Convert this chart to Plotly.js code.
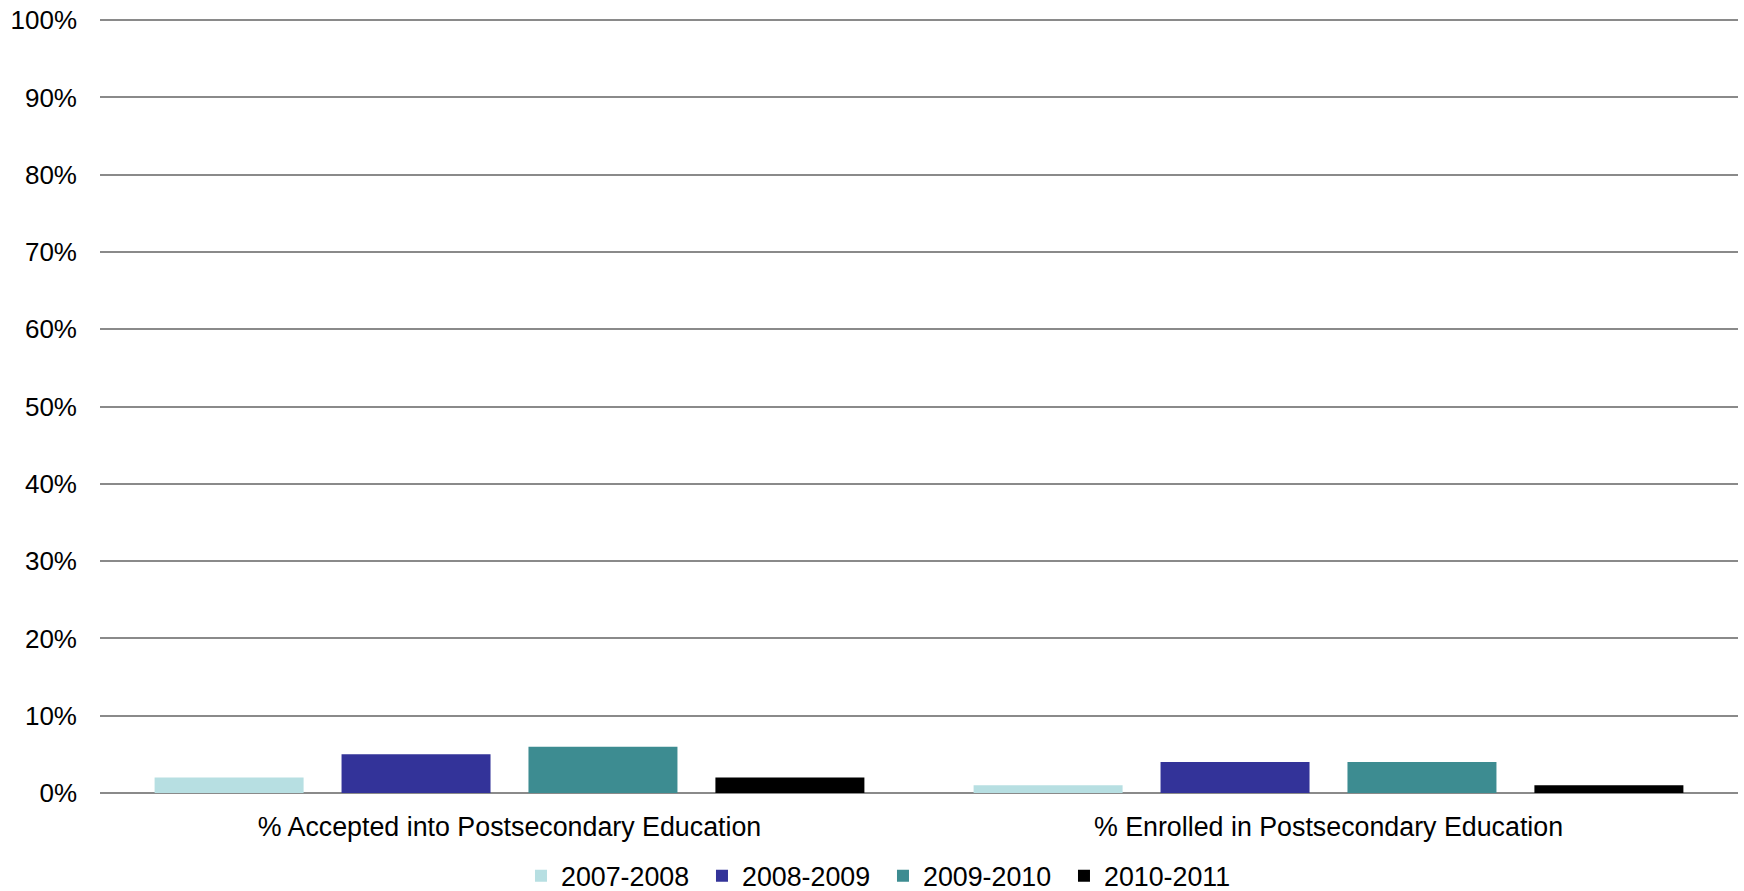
<!DOCTYPE html>
<html>
<head>
<meta charset="utf-8">
<script src="https://cdn.plot.ly/plotly-3.0.1.min.js"></script>
<style>
  html, body { margin: 0; padding: 0; background: #ffffff; }
  #chart { width: 1744px; height: 891px; }
</style>
</head>
<body>
<div id="chart"></div>
<script>
const categories = ["% Accepted into Postsecondary Education", "% Enrolled in Postsecondary Education"];
const seriesNames = ["2007-2008", "2008-2009", "2009-2010", "2010-2011"];
const v2007_2008 = [2, 1];
const v2008_2009 = [5, 4];
const v2009_2010 = [6, 4];
const v2010_2011 = [2, 1];
const seriesValues = [v2007_2008, v2008_2009, v2009_2010, v2010_2011];
const seriesColors = ["#B7DFE2", "#333399", "#3D8C91", "#000000"];
const yTicks = [0, 10, 20, 30, 40, 50, 60, 70, 80, 90, 100];

const FONT = "Liberation Sans, Arial, sans-serif";

const traces = seriesNames.map((name, i) => ({
  type: "bar",
  name: name,
  x: categories,
  y: seriesValues[i],
  marker: { color: seriesColors[i], line: { width: 0 } },
  hoverinfo: "x+y+name"
}));

const layout = {
  width: 1744,
  height: 891,
  paper_bgcolor: "#ffffff",
  plot_bgcolor: "#ffffff",
  margin: { l: 100, r: 6, t: 19, b: 98, pad: 0 },
  barmode: "group",
  bargap: 0.087,
  bargroupgap: 0.203,
  font: { family: FONT, size: 26, color: "#000000" },
  showlegend: true,
  legend: {
    orientation: "h",
    x: 0.5063, xref: "container", xanchor: "center",
    y: 0.017, yref: "container", yanchor: "middle",
    font: { family: FONT, size: 26.8, color: "#000000" },
    entrywidth: 136,
    entrywidthmode: "pixels",
    traceorder: "normal",
    bgcolor: "rgba(0,0,0,0)"
  },
  xaxis: {
    type: "category",
    showgrid: false,
    showline: false,
    zeroline: false,
    ticks: "",
    tickfont: { family: FONT, size: 26.8, color: "#000000" },
    ticklabelstandoff: 15
  },
  yaxis: {
    range: [0, 100.15],
    tickvals: yTicks,
    ticktext: yTicks.map(t => t + "%"),
    showgrid: true,
    gridcolor: "#8A8A8A",
    gridwidth: 2,
    zeroline: true,
    zerolinecolor: "#8A8A8A",
    zerolinewidth: 2,
    showline: false,
    ticks: "",
    tickfont: { family: FONT, size: 26, color: "#000000" },
    ticklabelstandoff: 22
  }
};

Plotly.newPlot("chart", traces, layout, { displayModeBar: false, staticPlot: true });
</script>
</body>
</html>
